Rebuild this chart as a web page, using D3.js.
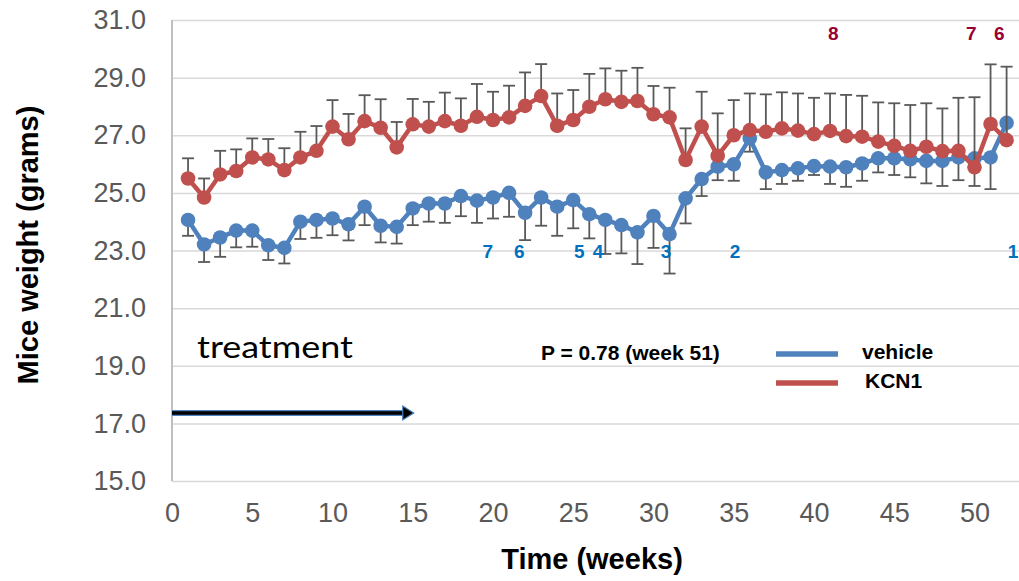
<!DOCTYPE html>
<html>
<head>
<meta charset="utf-8">
<script src="https://cdn.jsdelivr.net/npm/d3@7"></script>
<style>
  body { margin: 0; background: #fff; }
  svg { display: block; font-family: "Liberation Sans", Arial, sans-serif; }
</style>
</head>
<body>
<svg id="chart" width="1019" height="581"></svg>
<script>
// data
const weeks = [1, 2, 3, 4, 5, 6, 7, 8, 9, 10, 11, 12, 13, 14, 15, 16, 17, 18, 19, 20, 21, 22, 23, 24, 25, 26,
    27, 28, 29, 30, 31, 32, 33, 34, 35, 36, 37, 38, 39, 40, 41, 42, 43, 44, 45, 46, 47, 48, 49, 50, 51, 52];
const vehicle = [24.06, 23.21, 23.45, 23.69, 23.69, 23.18, 23.09, 24.0, 24.06, 24.11, 23.91, 24.52, 23.86, 23.82,
    24.46, 24.63, 24.63, 24.89, 24.73, 24.84, 25.0, 24.31, 24.84, 24.52, 24.75, 24.26, 24.06, 23.88, 23.63, 24.2,
    23.57, 24.81, 25.48, 25.91, 25.99, 26.89, 25.71, 25.79, 25.85, 25.93, 25.91, 25.89, 26.02, 26.2, 26.2, 26.16,
    26.11, 26.11, 26.23, 26.2, 26.23, 27.43];
const vehicleErr = [0.55, 0.61, 0.67, 0.58, 0.56, 0.51, 0.54, 0.6, 0.62, 0.58, 0.56, 0.64, 0.58, 0.58, 0.58, 0.63,
    0.67, 0.7, 0.77, 0.73, 0.83, 0.95, 0.98, 1.01, 0.98, 0.84, 1.18, 0.98, 1.1, 1.11, 1.37, 0.87, 0.59, 0.47, 0.57,
    0.46, 0.58, 0.48, 0.43, 0.31, 0.6, 0.68, 0.6, 0.49, 0.58, 0.62, 0.78, 0.87, 0.79, 0.96, 1.1, 0.5];
const kcn1 = [25.5, 24.84, 25.64, 25.76, 26.23, 26.16, 25.79, 26.23, 26.46, 27.3, 26.86, 27.49, 27.26, 26.58, 27.38,
    27.3, 27.49, 27.33, 27.64, 27.53, 27.62, 28.02, 28.36, 27.33, 27.53, 27.99, 28.25, 28.16, 28.19, 27.73, 27.62,
    26.14, 27.3, 26.29, 27.0, 27.18, 27.12, 27.24, 27.16, 27.04, 27.15, 26.97, 26.95, 26.78, 26.63, 26.46, 26.6,
    26.45, 26.46, 25.89, 27.39, 26.83];
const kcn1Err = [0.7, 0.66, 0.82, 0.75, 0.66, 0.71, 0.76, 0.89, 0.86, 0.92, 0.88, 0.9, 0.99, 0.88, 0.88, 0.86, 0.99,
    0.95, 1.14, 0.98, 1.1, 1.16, 1.11, 1.12, 1.04, 1.14, 1.07, 1.08, 1.15, 0.98, 1.03, 1.1, 1.21, 1.47, 1.22, 1.27,
    1.3, 1.25, 1.29, 1.26, 1.3, 1.43, 1.42, 1.36, 1.48, 1.59, 1.51, 1.48, 1.84, 2.43, 2.07, 2.55];

// numbers written on the plot
const vehicleMarks = ["7", "6", "5", "4", "3", "2", "1"];
const vehicleMarkWeeks = [19.67, 21.64, 25.38, 26.54, 30.78, 35.08, 52.4];
const kcn1Marks = ["8", "7", "6"];
const kcn1MarkWeeks = [41.2, 49.8, 51.55];

const xTicks = [0, 5, 10, 15, 20, 25, 30, 35, 40, 45, 50];
const yTicks = [15, 17, 19, 21, 23, 25, 27, 29, 31];

const plotLeft = 172;
const plotTop = 20;
const plotBottom = 481;
const pxPerWeek = 16.05;
const tickFont = 27;

const svg = d3.select("#chart");

let x = d3.scaleLinear().domain([0, 53]).range([plotLeft, plotLeft + 53 * pxPerWeek]);
let y = d3.scaleLinear().domain([15, 31]).range([plotBottom, plotTop]);

// gridlines
svg.append("g")
    .attr("class", "grid")
    .attr("transform", "translate(" + plotLeft + ",0)")
    .call(d3.axisLeft(y).tickValues(yTicks).tickSize(-(x(53) - plotLeft)).tickFormat(""))
    .call(g => g.select(".domain").remove())
    .selectAll("line")
    .attr("stroke", "#d9d9d9")
    .attr("stroke-width", 1.5);

// y axis line + labels
svg.append("line")
    .attr("x1", plotLeft).attr("x2", plotLeft)
    .attr("y1", plotTop).attr("y2", plotBottom)
    .attr("stroke", "#bfbfbf").attr("stroke-width", 2);

svg.append("g")
    .attr("class", "y-axis")
    .attr("transform", "translate(" + (plotLeft - 26) + ",0)")
    .call(d3.axisLeft(y).tickValues(yTicks).tickSize(0).tickFormat(d3.format(".1f")))
    .call(g => g.select(".domain").remove())
    .selectAll("text")
    .attr("font-size", tickFont)
    .attr("font-family", "Liberation Sans, Arial, sans-serif")
    .attr("fill", "#595959")
    .attr("x", 0);

svg.append("g")
    .attr("class", "x-axis")
    .attr("transform", "translate(0," + plotBottom + ")")
    .call(d3.axisBottom(x).tickValues(xTicks).tickSize(0).tickFormat(d3.format("d")))
    .call(g => g.select(".domain").remove())
    .selectAll("text")
    .attr("font-size", tickFont)
    .attr("font-family", "Liberation Sans, Arial, sans-serif")
    .attr("fill", "#595959")
    .attr("y", 22);

// axis titles
svg.append("text")
    .attr("transform", "rotate(-90)")
    .attr("x", -245)
    .attr("y", 38)
    .attr("text-anchor", "middle")
    .attr("font-size", 29)
    .attr("font-weight", "bold")
    .text("Mice weight (grams)");

svg.append("text")
    .attr("x", 592)
    .attr("y", 569)
    .attr("text-anchor", "middle")
    .attr("font-size", 29)
    .attr("font-weight", "bold")
    .text("Time (weeks)");

// one series: error bars, line, markers
function drawSeries(values, errs, color, up) {
    let pts = weeks.map((w, i) => ({ w: w, v: values[i], e: errs[i] }));
    let g = svg.append("g");

    let bars = g.selectAll("g.err").data(pts).enter().append("g").attr("class", "err");
    bars.append("line")
        .attr("x1", d => x(d.w)).attr("x2", d => x(d.w))
        .attr("y1", d => y(d.v))
        .attr("y2", d => y(up ? d.v + d.e : d.v - d.e))
        .attr("stroke", "#595959").attr("stroke-width", 1.8);
    bars.append("line")
        .attr("x1", d => x(d.w) - 6).attr("x2", d => x(d.w) + 6)
        .attr("y1", d => y(up ? d.v + d.e : d.v - d.e))
        .attr("y2", d => y(up ? d.v + d.e : d.v - d.e))
        .attr("stroke", "#595959").attr("stroke-width", 1.8);

    let line = d3.line().x(d => x(d.w)).y(d => y(d.v));
    g.append("path")
        .datum(pts)
        .attr("d", line)
        .attr("fill", "none")
        .attr("stroke", color)
        .attr("stroke-width", 4.5)
        .attr("stroke-linejoin", "round");

    g.selectAll("circle").data(pts).enter().append("circle")
        .attr("cx", d => x(d.w))
        .attr("cy", d => y(d.v))
        .attr("r", 7.3)
        .attr("fill", color);
}

drawSeries(vehicle, vehicleErr, "#4f81bd", false);
drawSeries(kcn1, kcn1Err, "#c0504d", true);

// survivor counts
svg.selectAll("text.vmark").data(vehicleMarks).enter().append("text")
    .attr("class", "vmark")
    .attr("x", (d, i) => x(vehicleMarkWeeks[i]))
    .attr("y", y(23) + 7)
    .attr("text-anchor", "middle")
    .attr("font-size", 19)
    .attr("font-weight", "bold")
    .attr("fill", "#0070c0")
    .text(d => d);

svg.selectAll("text.kmark").data(kcn1Marks).enter().append("text")
    .attr("class", "kmark")
    .attr("x", (d, i) => x(kcn1MarkWeeks[i]))
    .attr("y", y(30.54) + 7)
    .attr("text-anchor", "middle")
    .attr("font-size", 19)
    .attr("font-weight", "bold")
    .attr("fill", "#990033")
    .text(d => d);

// treatment arrow
svg.append("text")
    .attr("x", 197)
    .attr("y", 358)
    .attr("font-family", "Lato, 'Open Sans', sans-serif")
    .attr("font-size", 30)
    .attr("textLength", 156)
    .attr("lengthAdjust", "spacingAndGlyphs")
    .text("treatment");

let ay = y(17.36);
svg.append("line")
    .attr("x1", x(0)).attr("x2", x(15) - 8)
    .attr("y1", ay).attr("y2", ay)
    .attr("stroke", "#4f81bd").attr("stroke-width", 6);
svg.append("line")
    .attr("x1", x(0)).attr("x2", x(15) - 8)
    .attr("y1", ay).attr("y2", ay)
    .attr("stroke", "#000").attr("stroke-width", 3.5);
svg.append("path")
    .attr("d", "M" + (x(15) - 10) + "," + (ay - 7) + "L" + (x(15) + 1) + "," + ay + "L" + (x(15) - 10) + "," + (ay + 7) + "Z")
    .attr("fill", "#000")
    .attr("stroke", "#4f81bd")
    .attr("stroke-width", 1.2);

// p value
svg.append("text")
    .attr("x", 541)
    .attr("y", 360)
    .attr("font-size", 21)
    .attr("font-weight", "bold")
    .text("P = 0.78 (week 51)");

// legend
const legendNames = ["vehicle", "KCN1"];
const legendColors = ["#4f81bd", "#c0504d"];
let legend = svg.selectAll("g.legend").data(legendNames).enter().append("g")
    .attr("class", "legend")
    .attr("transform", (d, i) => "translate(776," + (354 + i * 29) + ")");
legend.append("line")
    .attr("x1", 0).attr("x2", 62)
    .attr("stroke", (d, i) => legendColors[i])
    .attr("stroke-width", 5.5);
legend.append("text")
    .attr("x", (d, i) => i == 0 ? 86 : 89)
    .attr("y", 5)
    .attr("font-size", 21)
    .attr("font-weight", "bold")
    .text(d => d);
</script>
</body>
</html>
